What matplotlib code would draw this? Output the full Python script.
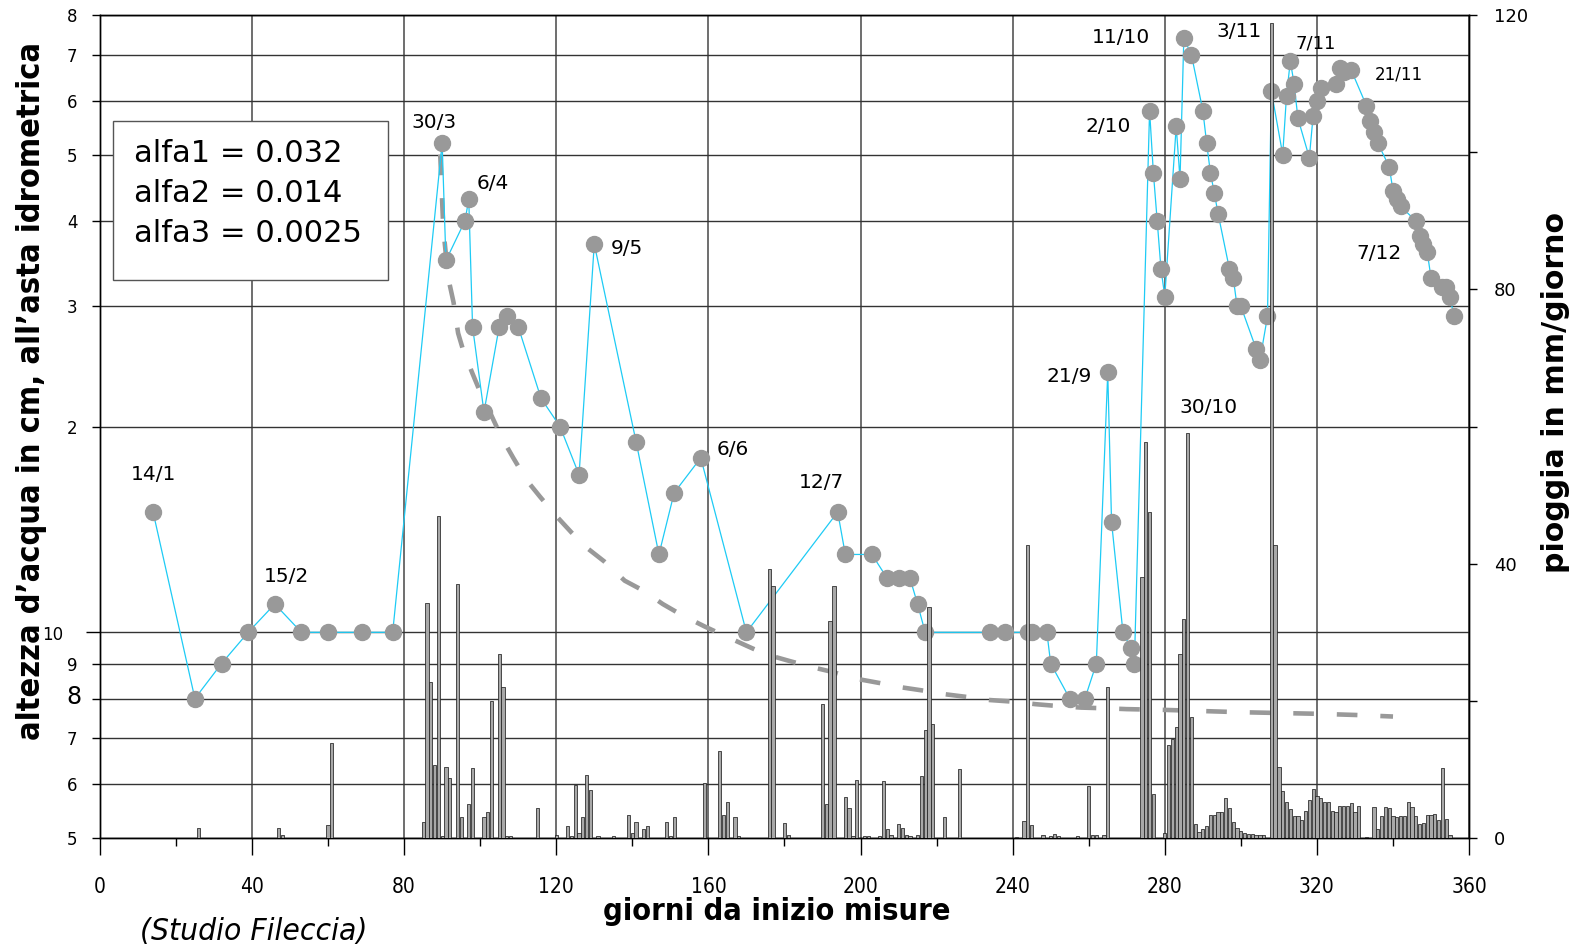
import os
import glob
import matplotlib
matplotlib.use('Agg')
import matplotlib.pyplot as plt
from matplotlib.ticker import FixedLocator, FuncFormatter, NullFormatter
from matplotlib.patches import Rectangle
from matplotlib.font_manager import FontProperties

# ---------------- data ----------------
# water level (cm) at the hydrometric staff, day from start of measurements
level_days = [14, 25, 32, 39, 46, 53, 60, 69, 77, 90, 91, 96, 97, 98, 101, 105, 107, 110,
              116, 121, 126, 130, 141, 147, 151, 158, 170, 194, 196, 203, 207, 210, 213,
              215, 217, 234, 238, 244, 245, 249, 250, 255, 259, 262, 265, 266, 269, 271,
              272, 276, 277, 278, 279, 280, 283, 284, 285, 287, 290, 291, 292, 293, 294,
              297, 298, 299, 300, 304, 305, 307, 308, 311, 312, 313, 314, 315, 318, 319,
              320, 321, 325, 326, 327, 329, 333, 334, 335, 336, 339, 340, 341, 342, 346,
              347, 348, 349, 350, 353, 354, 355, 356]
level_cm = [15, 8, 9, 10, 11, 10, 10, 10, 10, 52, 35, 40, 43, 28, 21, 28, 29, 28,
            22, 20, 17, 37, 19, 13, 16, 18, 10, 15, 13, 13, 12, 12, 12,
            11, 10, 10, 10, 10, 10, 10, 9, 8, 8, 9, 24, 14.5, 10, 9.5,
            9, 58, 47, 40, 34, 31, 55, 46, 74, 70, 58, 52, 47, 44, 41,
            34, 33, 30, 30, 26, 25, 29, 62, 50, 61, 68.5, 63.5, 56.5, 49.5, 57,
            60, 62.5, 63.5, 67, 66, 66.5, 59, 56, 54, 52, 48, 44.3, 43, 42, 40,
            38, 37, 36, 33, 32, 32, 31, 29]

# recession curve (dashed)
curve_days = [89.5, 90.3, 91.6, 93, 94.2, 95.5, 98, 100.4, 101.7, 105.6, 108.7, 112.2,
              115.7, 120, 124, 128, 132.6, 138, 143, 148, 153, 159, 164, 170, 175, 181,
              187, 193, 198, 205, 210, 217, 222, 229, 234, 241, 246, 252, 258, 265, 270,
              280, 290, 300, 310, 320, 330, 340]
curve_cm = [50, 39, 33, 30.4, 27.4, 25.9, 23.9, 22.2, 21.5, 19.3, 18.0, 16.7,
            15.8, 14.8, 14.0, 13.3, 12.7, 11.9, 11.5, 11.0, 10.6, 10.2, 9.9, 9.56, 9.29, 9.09,
            8.9, 8.74, 8.57, 8.43, 8.32, 8.21, 8.12, 8.03, 7.96, 7.91, 7.85, 7.80, 7.76, 7.74, 7.72,
            7.70, 7.67, 7.64, 7.62, 7.60, 7.57, 7.53]

# daily rainfall (mm/giorno)
rain_days = [26, 47, 48, 60, 61,
             85, 86, 87, 88, 89, 90, 91, 92, 94, 95, 97, 98, 101, 102, 103, 105, 106, 107, 108,
             115, 120, 123, 124, 125, 126, 127, 128, 129, 131, 135,
             139, 140, 141, 143, 144, 149, 150, 151,
             159, 163, 164, 165, 167, 168,
             176, 177, 180, 181,
             190, 191, 192, 193, 196, 197, 198, 199, 201, 202, 205, 206, 207, 208,
             210, 211, 212, 213, 215, 216, 217, 218, 219, 222, 226,
             241, 243, 244, 245, 248, 250, 251, 252, 257, 260, 261, 262, 264, 265,
             274, 275, 276, 277, 280, 281, 282, 283, 284, 285, 286, 287, 288, 289, 290, 291,
             292, 293, 294, 295, 296, 297, 298, 299, 300, 301, 302, 303, 304, 305, 306,
             308, 309, 310, 311, 312, 313, 314, 315, 316, 317, 318, 319, 320, 321, 322, 323,
             324, 325, 326, 327, 328, 329, 330, 331,
             333, 335, 336, 337, 338, 339, 340, 341, 342, 343, 344, 345, 346, 347, 348, 349,
             350, 351, 352, 353, 354, 355]
rain_mm = [1.5, 1.5, 0.4, 1.9, 13.8,
           2.4, 34.3, 22.7, 10.7, 47.0, 0.3, 10.3, 8.7, 37.1, 3.1, 5.0, 10.2, 3.0, 3.8, 20.0, 26.9, 22.0, 0.3, 0.3,
           4.4, 0.5, 1.7, 0.3, 7.7, 0.7, 3.0, 9.2, 7.0, 0.3, 0.3,
           3.3, 0.7, 2.4, 1.3, 1.8, 2.4, 0.3, 3.0,
           8.1, 12.7, 3.3, 5.3, 3.1, 0.3,
           39.3, 36.8, 2.2, 0.5,
           19.5, 5.0, 31.6, 36.8, 6.0, 4.4, 0.3, 8.5, 0.3, 0.3, 0.3, 8.3, 1.3, 0.5,
           2.0, 1.4, 0.5, 0.3, 0.5, 9.1, 15.8, 33.7, 16.6, 3.1, 10.1,
           0.2, 2.5, 42.7, 1.9, 0.4, 0.3, 0.6, 0.3, 0.3, 7.6, 0.4, 0.4, 0.4, 22.1,
           38.0, 57.7, 47.6, 6.4, 0.8, 13.5, 14.4, 16.2, 26.9, 31.9, 59.1, 17.6, 2.1, 0.9, 1.3, 1.8,
           3.3, 3.3, 3.8, 3.8, 5.9, 4.4, 2.4, 1.4, 1.1, 0.7, 0.6, 0.6, 0.5, 0.4, 0.5,
           118.8, 42.7, 10.4, 6.9, 5.3, 4.3, 3.2, 3.2, 2.6, 4.0, 5.5, 7.1, 6.1, 5.9, 5.3, 5.2,
           4.0, 3.8, 4.7, 4.7, 4.7, 5.1, 3.8, 4.7,
           0.2, 4.5, 1.3, 3.2, 4.5, 4.4, 3.2, 3.0, 3.2, 3.2, 5.2, 4.5, 3.2, 2.0, 2.2, 3.4,
           3.4, 3.5, 2.6, 10.2, 2.8, 0.4]

left_ticks = [5, 6, 7, 8, 9, 10, 20, 30, 40, 50, 60, 70, 80]
left_labels = ['5', '6', '7', '8', '9', '10', '2', '3', '4', '5', '6', '7', '8']
right_ticks = [0, 40, 80, 120]
x_ticks = [0, 40, 80, 120, 160, 200, 240, 280, 320, 360]

date_labels = ['14/1', '15/2', '30/3', '6/4', '9/5', '6/6', '12/7', '21/9', '2/10',
               '11/10', '3/11', '30/10', '7/11', '21/11', '7/12']
alfa_lines = ['alfa1 = 0.032', 'alfa2 = 0.014', 'alfa3 = 0.0025']


# ---------------- fonts ----------------
def find_font(names, **fallback):
    for n in names:
        hits = glob.glob('/usr/share/fonts/**/' + n, recursive=True) + \
            glob.glob('/usr/local/share/fonts/**/' + n, recursive=True)
        if hits:
            return FontProperties(fname=hits[0])
    return FontProperties(family='DejaVu Sans', **fallback)


F_BOLD_COND = find_font(['LiberationSansNarrow-Bold.ttf', 'DejaVuSansCondensed-Bold.ttf',
                         'RobotoCondensed-Bold.ttf'], weight='bold')
F_ITAL_COND = find_font(['LiberationSansNarrow-Italic.ttf', 'DejaVuSansCondensed-Oblique.ttf',
                         'RobotoCondensed-Italic.ttf'], style='italic')
F_COND = find_font(['LiberationSansNarrow-Regular.ttf', 'DejaVuSansCondensed.ttf',
                    'RobotoCondensed-Regular.ttf'])

# ---------------- layout / style ----------------
W, H = 1568.0, 942.0          # frame of the reference as displayed
SC = 1581.0 / 1568.0          # displayed -> actual pixels
CYAN = '#1ECBF5'
GREY = '#999999'

fig = plt.figure(figsize=(15.81, 9.50), dpi=100)
ax = fig.add_axes([99 / W, 1 - 831 / H, (1457 - 99) / W, (831 - 15) / H])

ax.plot(curve_days, curve_cm, color=GREY, lw=3.3, dashes=(4.5, 5), dash_capstyle='butt', zorder=2)
ax.plot(level_days, level_cm, color=CYAN, lw=0.9, zorder=3)
ax.plot(level_days, level_cm, 'o', ms=11.5, color=GREY, mec=GREY, zorder=4)

ax.set_yscale('log')
ax.set_ylim(5, 80)
ax.set_xlim(0, 360)

lab_map = dict(zip(left_ticks, left_labels))
ax.yaxis.set_major_locator(FixedLocator([10]))
ax.yaxis.set_major_formatter(NullFormatter())
minor_y = [t for t in left_ticks if t != 10]
ax.yaxis.set_minor_locator(FixedLocator(minor_y))
ax.yaxis.set_minor_formatter(FuncFormatter(
    lambda v, p: '' if int(round(v)) == 8 else lab_map.get(int(round(v)), '')))
ax.tick_params(axis='y', which='minor', length=6, width=1, pad=10, labelsize=12)
ax.tick_params(axis='y', which='major', length=10, width=1)

ax.set_xticks(x_ticks, [str(t) for t in x_ticks], fontproperties=F_COND)
ax.xaxis.set_minor_locator(FixedLocator(list(range(20, 360, 40))))
ax.tick_params(axis='x', which='major', length=12, width=1, pad=16)
ax.tick_params(axis='x', which='minor', length=6, width=1)
for t in ax.get_xticklabels():
    t.set_fontsize(15)

ax.set_axisbelow(True)
ax.grid(True, axis='y', which='both', color='#333333', lw=1.0)
ax.grid(True, axis='x', which='major', color='#555555', lw=1.2)
for s in ax.spines.values():
    s.set_color('black')
    s.set_linewidth(1.0)

# special left labels "10" and big "8"
fig.text(52 / W, 1 - 630 / H, lab_map[10], ha='center', va='center', fontsize=12)
fig.text(73 / W, 1 - 691 / H, lab_map[8], ha='center', va='center', fontsize=17)

# rainfall on right axis
ax2 = ax.twinx()
ax2.bar(rain_days, rain_mm, width=0.85, color='#A8A8A8', edgecolor='#222222', lw=0.55, zorder=5)
ax2.set_ylim(0, 120)
ax2.set_yticks(right_ticks, [str(t) for t in right_ticks])
ax2.yaxis.set_minor_locator(FixedLocator([20, 60, 100]))
ax2.tick_params(axis='y', which='major', length=6, width=1, pad=12, labelsize=13)
ax2.tick_params(axis='y', which='minor', length=6, width=1)
for s in ax2.spines.values():
    s.set_linewidth(1.0)

# text box with alfa values
ax.add_patch(Rectangle(((112 - 99) / 1358, (831 - 278) / 816), (385 - 112) / 1358, (278 - 120) / 816,
                       transform=ax.transAxes, facecolor='white', edgecolor='#555555', lw=1.0, zorder=6))
for i, line in enumerate(alfa_lines):
    fig.text(133 / W, 1 - (152 + 40 * i) / H, line, ha='left', va='center', fontsize=22, zorder=7)

# date annotations (left-x, centre-y in displayed pixels, size)
date_pos = [(130, 471, 14.5), (262, 572, 14.5), (408, 121, 14.5), (473, 182, 14.5), (606, 246, 14.5),
            (711, 446, 14.5), (792, 478, 14.5), (1038, 373, 14.5), (1077, 125, 14.5),
            (1083, 37, 14.5), (1206, 31, 14.5), (1170, 404, 14.5), (1285, 43, 13), (1363, 74, 12),
            (1345, 251, 14.5)]
for lab, (px, py, fs) in zip(date_labels, date_pos):
    fig.text(px / W, 1 - py / H, lab, ha='left', va='center', fontsize=fs)

# axis titles
t_left = fig.text(31 / W, 1 - 388 / H, 'altezza d\u2019acqua in cm, all\u2019asta idrometrica', rotation=90,
                  ha='center', va='center', fontproperties=F_BOLD_COND)
t_bottom = fig.text(770 / W, 1 - 904 / H, 'giorni da inizio misure', ha='center', va='center',
                    fontproperties=F_BOLD_COND)
t_right = fig.text(1543 / W, 1 - 389 / H, 'pioggia in mm/giorno', rotation=90, ha='center', va='center',
                   fontsize=19, fontweight='bold')
t_src = fig.text(252 / W, 1 - 924 / H, '(Studio Fileccia)', ha='center', va='center',
                 fontproperties=F_ITAL_COND)

# size the titles so that their lengths match the reference
fig.canvas.draw()
rend = fig.canvas.get_renderer()
for t, target, fs0, vertical in [(t_left, 695, 23, True), (t_bottom, 344, 23, False),
                                 (t_right, 358, 19, True), (t_src, 225, 21, False)]:
    t.set_fontsize(fs0)
    bb = t.get_window_extent(rend)
    cur = bb.height if vertical else bb.width
    t.set_fontsize(fs0 * target * SC / cur)

fig.savefig('out.png', dpi=100)
